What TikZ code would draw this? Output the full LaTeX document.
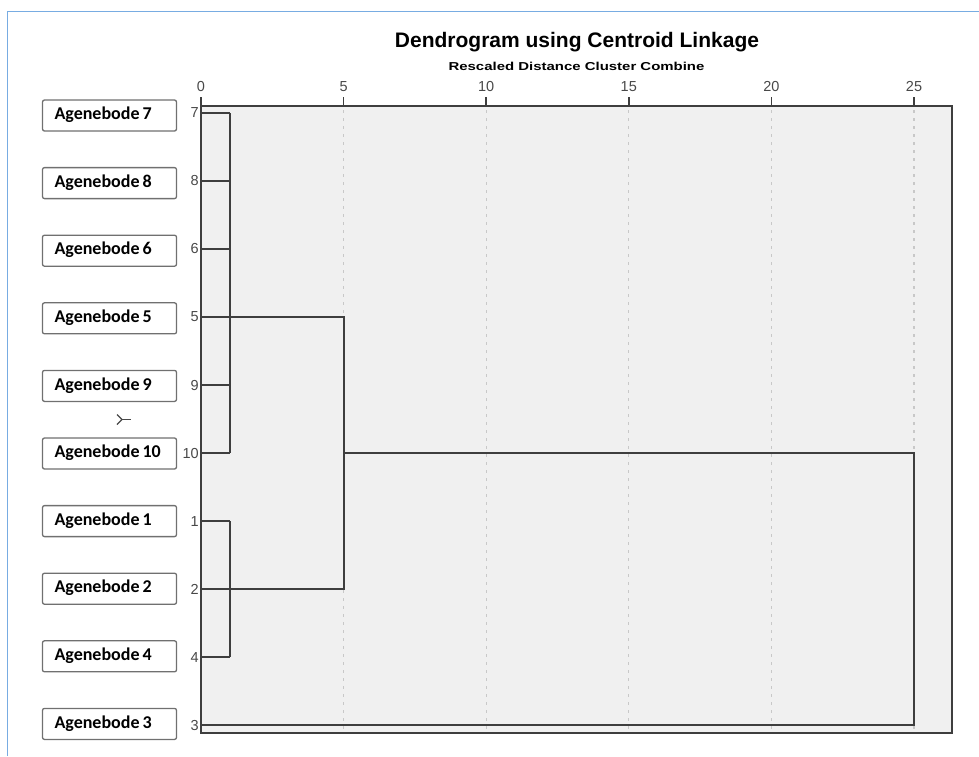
\documentclass[tikz,border=0pt]{standalone}
\usepackage{fontspec}
\setmainfont{Liberation Sans}
\newfontfamily\boxfont{Carlito}
\usepackage{tikz}
\tikzset{>=latex}
\definecolor{frameblue}{RGB}{120,172,226}
\definecolor{plotgray}{RGB}{240,240,240}
\definecolor{linegray}{RGB}{62,62,62}
\definecolor{gridgray}{RGB}{200,200,200}
\definecolor{boxgray}{RGB}{112,112,112}
\definecolor{numgray}{RGB}{72,72,72}
\tikzset{
  leafbox/.style={draw=boxgray, line width=1.3pt, rounded corners=2pt, fill=white,
    inner xsep=12pt, inner ysep=0pt, text width=110pt, align=left,
    minimum height=31pt, text height=12.5pt, text depth=4pt,
    font=\boxfont\bfseries\fontsize{18}{18}\selectfont},
  tree/.style={draw=linegray, line width=1.5pt},
  leafnum/.style={anchor=east, inner sep=0pt, text=numgray, font=\fontsize{14.5}{14.5}\selectfont},
  ticklab/.style={inner sep=0pt, text=numgray, font=\fontsize{14.5}{14.5}\selectfont},
}

\begin{document}
\begin{tikzpicture}[x=1pt, y=-1pt]
      \useasboundingbox (0,0) rectangle (979,756);
      \draw[frameblue, line width=1.3pt] (7.5,756) -- (7.5,11.5) -- (979,11.5);
      % titles
      \node (title) at (577,42) {\bfseries\fontsize{21}{21}\selectfont Dendrogram using Centroid Linkage};
      \node (subtitle) at (576.5,66) {\scalebox{1.3}[1]{\bfseries\fontsize{11.5}{11.5}\selectfont Rescaled Distance Cluster Combine}};
      % plot area
      \fill[plotgray] (201,106) rectangle (952,733);
      \foreach \t in {5,10,...,25}
        \draw[gridgray, line width=1.3pt, dash pattern=on 3pt off 5pt] (201+\t*28.52,110) -- (201+\t*28.52,733);
      \foreach \t in {0,5,...,25} {
        \draw[linegray, line width=1.5pt] (201+\t*28.52,97) -- (201+\t*28.52,106);
        \node[ticklab] (tick\t) at (201+\t*28.52,86.5) {\t};
      }
      % leaves
      \coordinate (jA) at (230,0);
      \coordinate (j5) at (344,0);
      \coordinate (j25) at (914,0);
      \foreach \lf [count=\i from 0] in {7,8,6,5,9,10,1,2,4,3} {
        \coordinate (r\lf) at (201,113+68*\i);
        \node[leafnum] (n\lf) at (199,113+68*\i) {\lf};
        \node[leafbox] (box\lf) at (109.5,115.5+67.6*\i) {Agenebode\,\lf};
      }
      % first joins
      \foreach \lf in {7,8,6,5,9,10}
        \draw[tree] (r\lf) -- (r\lf -| jA);
      \draw[tree] (r7 -| jA) -- (r10 -| jA);
      \foreach \lf in {1,2,4}
        \draw[tree] (r\lf) -- (r\lf -| jA);
      \draw[tree] (r1 -| jA) -- (r4 -| jA);
      % later joins
      \draw[tree] (r5) -| (r2 -| j5) -- (r2);
      \draw[tree] (r10 -| j5) -| (r3 -| j25) -- (r3);
      % frame
      \draw[linegray, line width=1.6pt] (201,106) rectangle (952,733);
      % small mark
      \coordinate (mk) at (122,419.5);
      \draw[numgray, line width=1.3pt] (117,414.5) -- (mk) -- (117,424.5);
      \draw[numgray, line width=1.3pt] (mk) -- (131,419.5);
\end{tikzpicture}
\end{document}
